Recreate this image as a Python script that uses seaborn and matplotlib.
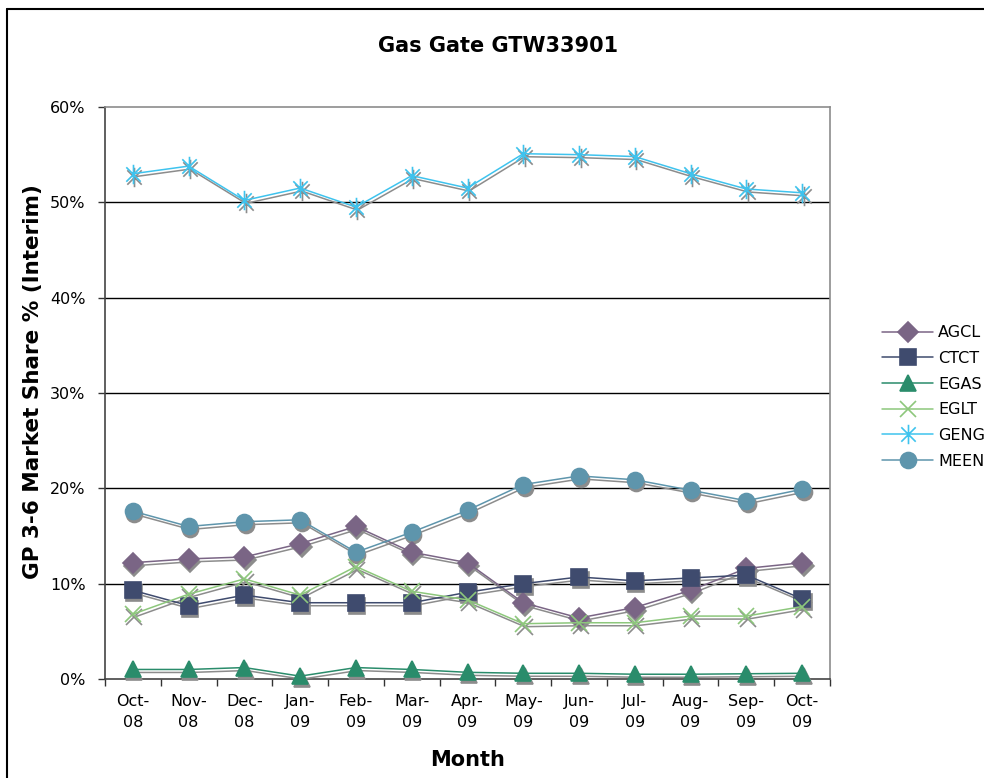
import numpy as np
import pandas as pd
import matplotlib
matplotlib.use("Agg")
import matplotlib.pyplot as plt
import seaborn as sns
from matplotlib.path import Path
from matplotlib.lines import Line2D
from matplotlib.ticker import PercentFormatter, FixedLocator
from matplotlib.transforms import ScaledTranslation

# ── Data (market share, %) ────────────────────────────────────────────────────
months = ["Oct-08", "Nov-08", "Dec-08", "Jan-09", "Feb-09", "Mar-09", "Apr-09",
          "May-09", "Jun-09", "Jul-09", "Aug-09", "Sep-09", "Oct-09"]
agcl = [12.2, 12.6, 12.8, 14.2, 16.0, 13.3, 12.2, 8.0, 6.4, 7.5, 9.3, 11.6, 12.2]
ctct = [9.3, 7.7, 8.8, 8.0, 8.0, 8.0, 9.1, 10.0, 10.7, 10.3, 10.6, 10.9, 8.4]
egas = [1.0, 1.0, 1.2, 0.3, 1.2, 1.0, 0.7, 0.6, 0.6, 0.5, 0.5, 0.55, 0.6]
eglt = [6.8, 8.9, 10.5, 8.8, 11.8, 9.2, 8.3, 5.8, 5.9, 5.9, 6.6, 6.6, 7.6]
geng = [53.0, 53.8, 50.2, 51.5, 49.5, 52.8, 51.5, 55.1, 55.0, 54.8, 53.0, 51.4, 51.0]
meen = [17.6, 16.0, 16.5, 16.7, 13.3, 15.4, 17.7, 20.4, 21.3, 20.9, 19.8, 18.7, 19.9]

series_names = ["AGCL", "CTCT", "EGAS", "EGLT", "GENG", "MEEN"]
series_vals = [agcl, ctct, egas, eglt, geng, meen]

# ── Styling ───────────────────────────────────────────────────────────────────
# Excel-like "star": an x with a vertical bar through it
STAR = Path([(-1, -1), (1, 1), (-1, 1), (1, -1), (0, -1.35), (0, 1.35)],
            [Path.MOVETO, Path.LINETO, Path.MOVETO, Path.LINETO,
             Path.MOVETO, Path.LINETO])

style = {
    "AGCL": dict(color="#7A6585", marker="D", ms=10),
    "CTCT": dict(color="#3F4B6E", marker="s", ms=11.5),
    "EGAS": dict(color="#2A8C6B", marker="^", ms=11.5),
    "EGLT": dict(color="#8DC77C", marker="x", ms=11),
    "GENG": dict(color="#3EC3EE", marker=STAR, ms=14),
    "MEEN": dict(color="#5E95AC", marker="o", ms=11.5),
}
SHADOW = "#8C8C8C"

sns.set_theme(style="white")
plt.rcParams["font.family"] = ["DejaVu Sans"]
plt.rcParams["text.color"] = "black"
plt.rcParams["axes.labelcolor"] = "black"

fig = plt.figure(figsize=(9.84, 7.78), dpi=100)
ax = fig.add_axes([105 / 984, 1 - 679 / 778, 725 / 984, 572 / 778])

x = np.arange(len(months))
df = pd.DataFrame({"idx": np.tile(x, len(series_names)),
                   "share": np.concatenate(series_vals),
                   "series": np.repeat(series_names, len(months))})

# shadows first (offset slightly right / down)
shadow_tr = ax.transData + ScaledTranslation(0.015, -0.03, fig.dpi_scale_trans)
for name in series_names:
    s = style[name]
    d = df[df["series"] == name]
    ax.plot(d["idx"], d["share"], color=SHADOW, lw=1.1, marker=s["marker"],
            ms=s["ms"], mfc=SHADOW, mec=SHADOW, mew=1.2,
            transform=shadow_tr, clip_on=False, zorder=3)

for name in series_names:
    s = style[name]
    d = df[df["series"] == name]
    sns.lineplot(data=d, x="idx", y="share", ax=ax, color=s["color"],
                 marker=s["marker"], markersize=s["ms"], mfc=s["color"],
                 mec=s["color"], mew=1.2, lw=1.1, label=name,
                 clip_on=False, zorder=4)

# axes
ax.set_xlim(-0.5, len(months) - 0.5)
ax.set_ylim(0, 60)
ax.yaxis.set_major_locator(FixedLocator(np.arange(0, 61, 10)))
ax.yaxis.set_major_formatter(PercentFormatter(xmax=100, decimals=0))
ax.set_xticks(x)
ax.set_xticklabels([m.replace("-", "-\n") for m in months])
ax.xaxis.set_minor_locator(FixedLocator(np.arange(-0.5, len(months), 1)))
ax.tick_params(axis="x", which="major", length=0, pad=11, labelsize=11.5,
               labelcolor="black")
ax.tick_params(axis="x", which="minor", bottom=True, length=5, width=1,
               color="#333333", direction="out")
ax.tick_params(axis="y", left=True, length=5, width=1, color="#333333",
               direction="out", pad=9, labelsize=11.5, labelcolor="black")
for lab in ax.get_xticklabels():
    lab.set_linespacing(1.45)

ax.grid(False)
for v in range(10, 60, 10):
    ax.axhline(v, color="black", lw=1, zorder=1)
ax.spines["left"].set_color("#444444")
ax.spines["bottom"].set_color("#444444")
ax.spines["top"].set_color("#8C8C8C")
ax.spines["right"].set_color("#8C8C8C")
for sp in ax.spines.values():
    sp.set_linewidth(1.2)
    sp.set_visible(True)

ax.set_xlabel("Month", fontsize=15, fontweight="bold")
ax.set_ylabel("GP 3-6 Market Share % (Interim)", fontsize=15.5,
              fontweight="bold")
ax.xaxis.set_label_coords(0.5, -0.1416)
ax.xaxis.label.set_va("center")
ax.yaxis.set_label_coords((33 - 105) / 725, (679 - 382) / 572)
ax.yaxis.label.set_va("center")

fig.text(498 / 984, 1 - 46 / 778, "Gas Gate GTW33901", ha="center",
         va="center", fontsize=15, fontweight="bold")

ax.get_legend().remove()
handles, labels = ax.get_legend_handles_labels()
fig.legend(handles[-len(series_names):], labels[-len(series_names):],
           loc="center left", bbox_to_anchor=(882 / 984, 1 - 397 / 778),
           frameon=False, fontsize=11.5, handlelength=3.2,
           handletextpad=0.3, labelspacing=0.67, borderpad=0,
           borderaxespad=0)

# outer chart border (left and top edges visible)
fig.add_artist(Line2D([7 / 984, 7 / 984], [-0.1, 1 - 9 / 778],
                      color="black", lw=1.5, transform=fig.transFigure))
fig.add_artist(Line2D([7 / 984, 1.1], [1 - 9 / 778, 1 - 9 / 778],
                      color="black", lw=1.5, transform=fig.transFigure))

fig.savefig("out.png", dpi=100)
